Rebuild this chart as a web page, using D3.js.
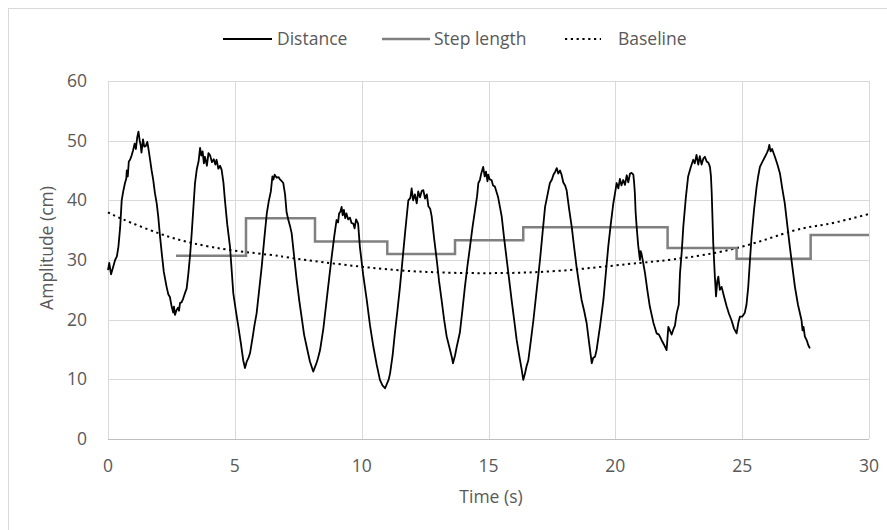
<!DOCTYPE html>
<html>
<head>
<meta charset="utf-8">
<script src="https://cdn.jsdelivr.net/npm/d3@7/dist/d3.min.js"></script>
<style>
  html, body { margin: 0; padding: 0; background: #fff; }
  svg text { font-family: "Open Sans", Lato, sans-serif; fill: #595959; }
</style>
</head>
<body>
<div id="chart"></div>
<script>
// distance signal, [time (s), amplitude (cm)]
const distance = [
  [0.00,28.3],[0.05,29.5],[0.12,27.6],[0.2,28.8],[0.28,30.0],[0.35,30.6],[0.41,32.2],[0.48,35.5],[0.54,40.0],[0.6,41.5],
  [0.67,42.9],[0.72,43.6],[0.74,45.0],[0.78,44.0],[0.82,46.5],[0.87,46.8],[0.93,47.5],[0.99,48.4],[1.05,49.5],[1.1,48.6],
  [1.15,50.5],[1.2,51.5],[1.25,50.0],[1.29,49.2],[1.32,48.0],[1.38,50.2],[1.43,49.0],[1.49,49.1],[1.55,49.8],[1.6,48.5],
  [1.66,46.8],[1.72,45.0],[1.78,43.5],[1.85,41.2],[1.92,39.5],[1.98,37.3],[2.05,34.0],[2.12,31.1],[2.2,28.0],[2.31,25.5],
  [2.38,24.2],[2.44,23.8],[2.51,22.2],[2.57,21.2],[2.6,22.2],[2.64,20.8],[2.7,21.6],[2.76,22.0],[2.8,21.5],[2.84,22.8],
  [2.9,22.9],[2.96,23.5],[3.03,24.4],[3.1,25.2],[3.17,27.8],[3.24,31.0],[3.3,34.5],[3.37,39.0],[3.43,42.9],[3.5,45.2],
  [3.57,46.5],[3.63,48.8],[3.68,47.5],[3.73,48.2],[3.78,46.2],[3.82,47.3],[3.9,45.8],[3.96,47.9],[4.02,47.6],[4.1,46.4],
  [4.17,46.9],[4.23,46.0],[4.28,46.8],[4.35,45.3],[4.42,45.8],[4.48,45.1],[4.55,43.0],[4.61,40.0],[4.7,36.0],[4.81,32.2],
  [4.88,28.0],[4.94,24.4],[5.04,21.5],[5.14,18.8],[5.24,16.0],[5.33,13.2],[5.4,11.9],[5.47,13.0],[5.53,13.5],[5.6,14.4],
  [5.7,17.0],[5.78,19.2],[5.86,21.1],[5.96,25.0],[6.06,28.9],[6.16,33.5],[6.26,37.8],[6.34,39.9],[6.42,41.5],[6.48,44.0],
  [6.52,43.5],[6.57,44.3],[6.65,43.8],[6.72,43.9],[6.78,43.5],[6.85,43.2],[6.91,42.9],[6.98,41.0],[7.04,38.0],[7.11,36.7],
  [7.17,35.8],[7.24,34.5],[7.34,30.5],[7.44,26.6],[7.54,23.2],[7.63,20.5],[7.73,17.5],[7.83,15.5],[7.96,13.0],[8.09,11.3],
  [8.2,12.5],[8.27,13.4],[8.36,14.9],[8.49,18.5],[8.62,23.3],[8.72,27.0],[8.82,30.6],[8.92,34.0],[9.01,36.7],[9.07,36.3],
  [9.11,37.8],[9.16,38.1],[9.21,38.9],[9.25,37.5],[9.3,38.4],[9.35,37.0],[9.4,37.8],[9.47,36.8],[9.54,37.1],[9.6,36.2],
  [9.67,36.1],[9.72,35.3],[9.78,36.8],[9.86,36.1],[9.93,32.2],[10.06,27.5],[10.2,23.3],[10.33,19.0],[10.46,15.5],[10.59,12.5],
  [10.72,9.9],[10.82,9.0],[10.92,8.5],[11.0,9.3],[11.06,9.9],[11.12,11.0],[11.22,14.0],[11.31,17.8],[11.41,21.5],[11.51,25.5],
  [11.61,30.0],[11.71,34.5],[11.78,37.5],[11.84,40.0],[11.92,40.4],[11.97,42.0],[12.03,40.0],[12.1,41.0],[12.17,39.5],[12.23,41.5],
  [12.3,40.5],[12.37,41.6],[12.43,41.7],[12.5,40.3],[12.57,41.0],[12.63,39.0],[12.7,38.6],[12.76,37.3],[12.86,33.5],[12.96,30.0],
  [13.05,26.5],[13.15,23.3],[13.25,20.0],[13.35,17.2],[13.45,15.5],[13.55,13.8],[13.6,12.7],[13.68,14.0],[13.75,15.5],[13.87,17.8],
  [13.97,21.5],[14.07,25.5],[14.17,29.0],[14.27,32.2],[14.37,35.5],[14.47,38.4],[14.55,40.7],[14.6,42.9],[14.66,43.4],[14.72,44.6],
  [14.79,45.6],[14.85,44.0],[14.9,44.8],[14.96,43.2],[14.99,44.3],[15.05,43.5],[15.12,43.4],[15.18,42.5],[15.25,42.3],[15.38,40.5],
  [15.52,37.3],[15.62,33.5],[15.72,30.0],[15.82,26.5],[15.91,23.3],[16.01,20.0],[16.11,16.6],[16.21,14.0],[16.31,11.6],[16.37,9.9],
  [16.44,11.0],[16.5,12.2],[16.57,13.2],[16.67,16.5],[16.77,19.9],[16.9,25.0],[17.03,30.0],[17.13,34.5],[17.23,38.9],[17.33,41.0],
  [17.42,42.9],[17.5,43.5],[17.56,44.3],[17.63,44.8],[17.69,45.4],[17.75,44.5],[17.82,45.0],[17.88,44.3],[17.95,43.0],[18.02,42.5],
  [18.08,41.7],[18.18,38.5],[18.28,35.6],[18.38,32.0],[18.47,28.9],[18.57,26.0],[18.67,23.3],[18.77,21.5],[18.87,19.4],[18.97,16.0],
  [19.07,12.7],[19.13,13.6],[19.2,13.8],[19.26,14.9],[19.4,19.0],[19.53,23.3],[19.63,28.0],[19.72,32.2],[19.82,36.0],[19.92,39.5],
  [20.0,41.5],[20.05,42.9],[20.12,42.0],[20.18,43.6],[20.24,42.5],[20.31,43.4],[20.38,42.6],[20.45,44.2],[20.51,43.0],[20.58,44.5],
  [20.64,44.6],[20.71,44.3],[20.74,43.0],[20.77,41.2],[20.8,38.0],[20.84,35.6],[20.9,32.5],[20.97,30.0],[21.0,31.5],[21.03,31.1],
  [21.1,29.5],[21.17,27.8],[21.26,25.0],[21.36,22.2],[21.5,19.5],[21.63,17.7],[21.72,17.5],[21.82,16.6],[21.92,15.8],[22.02,14.9],
  [22.09,18.8],[22.15,18.2],[22.22,17.5],[22.29,18.4],[22.35,19.0],[22.42,21.1],[22.5,22.5],[22.55,27.8],[22.62,31.5],[22.68,35.6],
  [22.78,40.5],[22.87,44.0],[22.97,45.5],[23.07,46.8],[23.13,46.2],[23.2,47.6],[23.27,46.0],[23.33,47.4],[23.4,46.0],[23.47,47.0],
  [23.53,47.3],[23.6,46.5],[23.67,46.3],[23.73,45.6],[23.77,44.0],[23.8,41.2],[23.83,37.0],[23.86,32.8],[23.92,27.5],[23.97,23.9],
  [24.02,26.5],[24.06,27.2],[24.12,25.0],[24.19,25.5],[24.29,23.8],[24.39,22.2],[24.48,21.0],[24.58,19.9],[24.68,18.5],[24.78,17.7],
  [24.85,19.5],[24.91,20.5],[25.0,20.5],[25.1,21.1],[25.17,22.5],[25.24,25.5],[25.3,29.5],[25.37,33.9],[25.47,38.5],[25.57,42.3],
  [25.63,44.0],[25.7,45.6],[25.8,46.5],[25.9,47.3],[25.98,48.0],[26.03,48.5],[26.07,49.3],[26.12,48.2],[26.18,48.6],[26.29,47.3],
  [26.39,46.0],[26.49,44.5],[26.58,42.0],[26.68,39.5],[26.78,35.8],[26.88,32.2],[26.98,28.8],[27.08,25.5],[27.2,22.5],[27.34,19.9],
  [27.38,18.2],[27.42,18.8],[27.47,17.2],[27.55,16.5],[27.6,15.8],[27.67,15.2]
];

// step length: one value held from each change time to the next
const stepTimes = [2.68, 5.44, 8.16, 11.01, 13.68, 16.37, 22.06, 24.78, 27.7, 30];
const stepValues = [30.7, 37.0, 33.1, 31.0, 33.3, 35.5, 32.0, 30.2, 34.2, 34.2];

// baseline trend
const baselineTimes = [0, 0.6, 2.05, 3.36, 4.94, 6.52, 7.3, 9.93, 12.56, 15.19, 17.82, 20.45, 22.28, 24.78, 27.01, 28.33, 30];
const baselineValues = [38.0, 36.8, 34.4, 32.8, 31.6, 30.8, 30.3, 28.9, 28.0, 27.8, 28.2, 29.3, 30.1, 32.0, 34.9, 36.0, 37.7];

const xTicks = [0, 5, 10, 15, 20, 25, 30];
const yTicks = [0, 10, 20, 30, 40, 50, 60];
const legendLabels = ["Distance", "Step length", "Baseline"];

const width = 887, height = 530;
const margin = {top: 81, right: 18, bottom: 91, left: 108};
const fontSize = 17.5;

const svg = d3.select("#chart").append("svg")
    .attr("width", width)
    .attr("height", height);

// chart area border (runs off the picture on the right and bottom)
svg.append("rect")
    .attr("x", 8.5).attr("y", 8.5)
    .attr("width", 1000).attr("height", 1000)
    .attr("fill", "none")
    .attr("stroke", "#d9d9d9");

const x = d3.scaleLinear([0, 30], [margin.left, width - margin.right]);
const y = d3.scaleLinear([0, 60], [height - margin.bottom, margin.top]);

// gridlines
svg.append("g")
    .selectAll("line")
    .data(yTicks.slice(1))
    .join("line")
    .attr("x1", x(0)).attr("x2", x(30))
    .attr("y1", d => Math.round(y(d)) + 0.5).attr("y2", d => Math.round(y(d)) + 0.5)
    .attr("stroke", "#d9d9d9");
svg.append("g")
    .selectAll("line")
    .data(xTicks)
    .join("line")
    .attr("x1", d => Math.round(x(d)) + 0.5).attr("x2", d => Math.round(x(d)) + 0.5)
    .attr("y1", y(60)).attr("y2", y(0))
    .attr("stroke", "#d9d9d9");

// x axis line
svg.append("line")
    .attr("x1", x(0)).attr("x2", x(30))
    .attr("y1", Math.round(y(0)) + 0.5).attr("y2", Math.round(y(0)) + 0.5)
    .attr("stroke", "#bfbfbf");

// tick labels
svg.append("g")
    .selectAll("text")
    .data(yTicks)
    .join("text")
    .attr("x", 87)
    .attr("y", d => y(d))
    .attr("dy", "0.35em")
    .attr("text-anchor", "end")
    .attr("font-size", fontSize)
    .text(d => d);
svg.append("g")
    .selectAll("text")
    .data(xTicks)
    .join("text")
    .attr("x", d => x(d))
    .attr("y", 466)
    .attr("dy", "0.35em")
    .attr("text-anchor", "middle")
    .attr("font-size", fontSize)
    .text(d => d);

// axis titles
svg.append("text")
    .attr("x", 491).attr("y", 497)
    .attr("dy", "0.35em")
    .attr("text-anchor", "middle")
    .attr("font-size", fontSize)
    .text("Time (s)");
svg.append("text")
    .attr("transform", "translate(47,248) rotate(-90)")
    .attr("dy", "0.35em")
    .attr("text-anchor", "middle")
    .attr("font-size", fontSize)
    .text("Amplitude (cm)");

// series
const line = d3.line().x(d => x(d[0])).y(d => y(d[1]));

svg.append("path")
    .datum(d3.zip(baselineTimes, baselineValues))
    .attr("fill", "none")
    .attr("stroke", "#000")
    .attr("stroke-width", 2)
    .attr("stroke-dasharray", "2.2 3.6")
    .attr("d", line.curve(d3.curveNatural));

svg.append("path")
    .datum(d3.zip(stepTimes, stepValues))
    .attr("fill", "none")
    .attr("stroke", "#808080")
    .attr("stroke-width", 2.5)
    .attr("d", d3.line().x(d => x(d[0])).y(d => y(d[1])).curve(d3.curveStepAfter));

svg.append("path")
    .datum(distance)
    .attr("fill", "none")
    .attr("stroke", "#000")
    .attr("stroke-width", 1.8)
    .attr("stroke-linejoin", "round")
    .attr("d", d3.line().x(d => x(d[0])).y(d => y(d[1])));

// legend
const legendItems = [
  {x1: 223, x2: 272, tx: 277, stroke: "#000", w: 1.8, dash: null},
  {x1: 382, x2: 430, tx: 434, stroke: "#808080", w: 2.5, dash: null},
  {x1: 565, x2: 601, tx: 618, stroke: "#000", w: 2, dash: "2.2 3.6"}
];
const lg = svg.append("g")
    .selectAll("g")
    .data(legendItems)
    .join("g");
lg.append("line")
    .attr("x1", d => d.x1).attr("x2", d => d.x2)
    .attr("y1", 39).attr("y2", 39)
    .attr("stroke", d => d.stroke)
    .attr("stroke-width", d => d.w)
    .attr("stroke-dasharray", d => d.dash);
lg.append("text")
    .attr("x", d => d.tx)
    .attr("y", 39)
    .attr("dy", "0.35em")
    .attr("font-size", fontSize)
    .text((d, i) => legendLabels[i]);
</script>
</body>
</html>
